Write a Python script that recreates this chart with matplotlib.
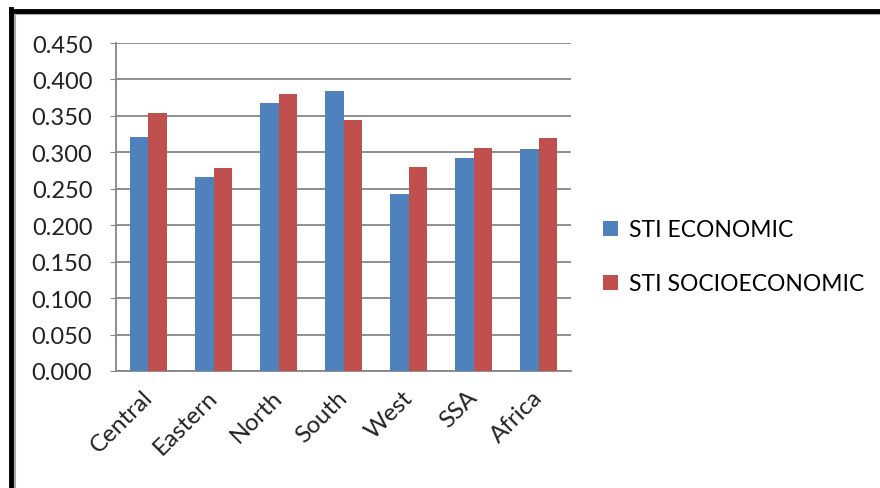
import numpy as np
import matplotlib.pyplot as plt
import matplotlib.transforms as mtransforms
from matplotlib.lines import Line2D

regions = ['Central', 'Eastern', 'North', 'South', 'West', 'SSA', 'Africa']
sti_economic = [0.321, 0.266, 0.368, 0.384, 0.243, 0.292, 0.304]
sti_socioeconomic = [0.354, 0.278, 0.380, 0.345, 0.280, 0.306, 0.319]

plt.rcParams['font.family'] = ['Lato', 'DejaVu Sans']

fig = plt.figure(figsize=(8.8, 4.89), dpi=100)
ax = fig.add_axes([0.1318, 0.2393, 0.5172, 0.6707])

x = np.arange(len(regions))
w = 0.286
ax.bar(x - w / 2, sti_economic, w, color='#4F81BD', label='STI ECONOMIC', zorder=3)
ax.bar(x + w / 2, sti_socioeconomic, w, color='#C0504D', label='STI SOCIOECONOMIC', zorder=3)

ax.set_xlim(-0.5, len(regions) - 0.5)
ax.set_ylim(0, 0.45)
ax.set_yticks(np.arange(0, 0.451, 0.05))
ax.set_yticklabels(['%.3f' % v for v in np.arange(0, 0.451, 0.05)], fontsize=17, color='#222222')
ax.set_xticks(x)
ax.set_xticklabels(regions, rotation=45, ha='right', rotation_mode='anchor', fontsize=17.5, color='#222222')
ax.tick_params(axis='x', length=0, pad=11)
ax.tick_params(axis='y', length=4, color='#868686', pad=13)
ax.yaxis.grid(True, color='#868686', linewidth=1.3, zorder=0)

# nudge category labels a bit to the left
shift = mtransforms.ScaledTranslation(-5 / 72, 0, fig.dpi_scale_trans)
for lab in ax.get_xticklabels():
    lab.set_transform(lab.get_transform() + shift)

for side in ['top', 'right']:
    ax.spines[side].set_visible(False)
for side in ['left', 'bottom']:
    ax.spines[side].set_color('#868686')
    ax.spines[side].set_linewidth(1.3)

ax.legend(loc='center left', bbox_to_anchor=(1.07, 0.348), frameon=False, fontsize=16.5,
          handlelength=0.65, handleheight=0.65, handletextpad=0.5, labelspacing=1.45,
          borderpad=0, borderaxespad=0)

# frame border (top and left, like a screenshot edge)
fig.add_artist(Line2D([0.0125, 1.0], [1 - 14.5 / 489, 1 - 14.5 / 489], color='#aaaaaa', linewidth=1.5))
fig.add_artist(Line2D([14.5 / 880, 14.5 / 880], [0, 1 - 13 / 489], color='#aaaaaa', linewidth=1.5))
fig.add_artist(Line2D([0.0125, 1.0], [1 - 12 / 489, 1 - 12 / 489], color='black', linewidth=3.5))
fig.add_artist(Line2D([11 / 880, 11 / 880], [0, 1 - 10 / 489], color='black', linewidth=3.5))

fig.savefig('out.png', dpi=100)
